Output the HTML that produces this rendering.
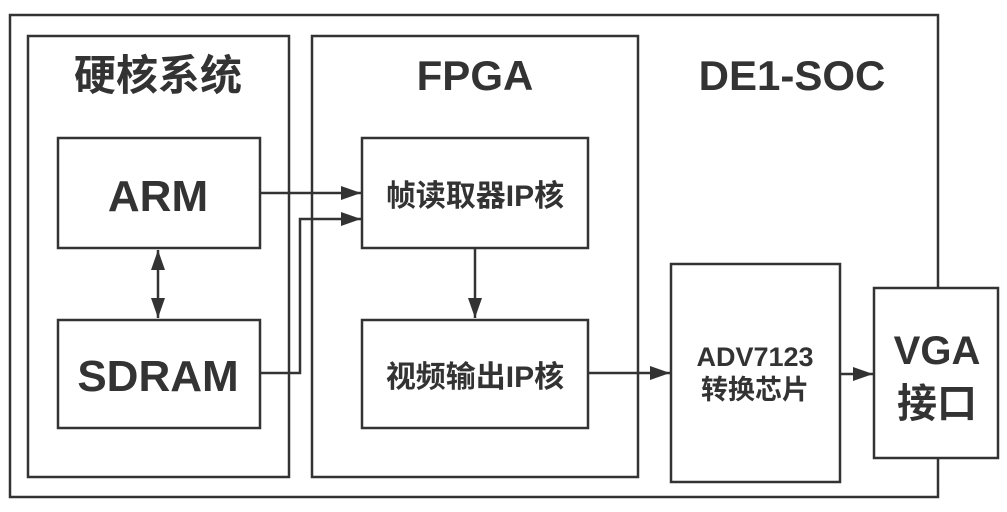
<!DOCTYPE html>
<html><head><meta charset="utf-8"><style>
body{margin:0;background:#fff}
svg text{font-family:"Liberation Sans","Noto Sans CJK SC",sans-serif;font-weight:bold;fill:#333;text-anchor:middle}
</style></head><body>
<svg width="1007" height="507" viewBox="0 0 1007 507">
<defs>
<marker id="b" viewBox="0 0 20 14" markerWidth="22" markerHeight="14" refX="20" refY="7" orient="auto-start-reverse" markerUnits="userSpaceOnUse"><path d="M0,0L20,7L0,14z" fill="#333"/></marker></defs>
<g fill="none" stroke="#333" stroke-width="2.5">
<rect x="10" y="15" width="928" height="482"/>
<rect x="28" y="36" width="261" height="441"/>
<rect x="312" y="36" width="326" height="441"/>
<rect x="58" y="138" width="202" height="110" fill="#fff"/>
<rect x="58" y="320" width="202" height="108" fill="#fff"/>
<rect x="362" y="138" width="226" height="110" fill="#fff"/>
<rect x="362" y="320" width="226" height="108" fill="#fff"/>
<rect x="671" y="264" width="169" height="218" fill="#fff"/>
<rect x="874" y="288" width="124" height="170" fill="#fff"/>
<path d="M260,193H361" marker-end="url(#b)"/>
<path d="M260,373H300V219H361" marker-end="url(#b)"/>
<path d="M158,250V318" marker-start="url(#b)" marker-end="url(#b)"/>
<path d="M475,248V318" marker-end="url(#b)"/>
<path d="M588,373H670" marker-end="url(#b)"/>
<path d="M840,374H873" marker-end="url(#b)"/>
</g>
<text x="158" y="90" font-size="42">硬核系统</text>
<text x="475" y="90" font-size="42">FPGA</text>
<text x="792" y="90" font-size="42">DE1-SOC</text>
<text x="158" y="211" font-size="44">ARM</text>
<text x="158" y="391" font-size="44">SDRAM</text>
<text x="475" y="206" font-size="30">帧读取器IP核</text>
<text x="475" y="387" font-size="30">视频输出IP核</text>
<text x="755" y="366" font-size="27">ADV7123</text>
<text x="755" y="399" font-size="27">转换芯片</text>
<text x="937" y="364" font-size="40">VGA</text>
<text x="937" y="417" font-size="40">接口</text>
</svg>
</body></html>
